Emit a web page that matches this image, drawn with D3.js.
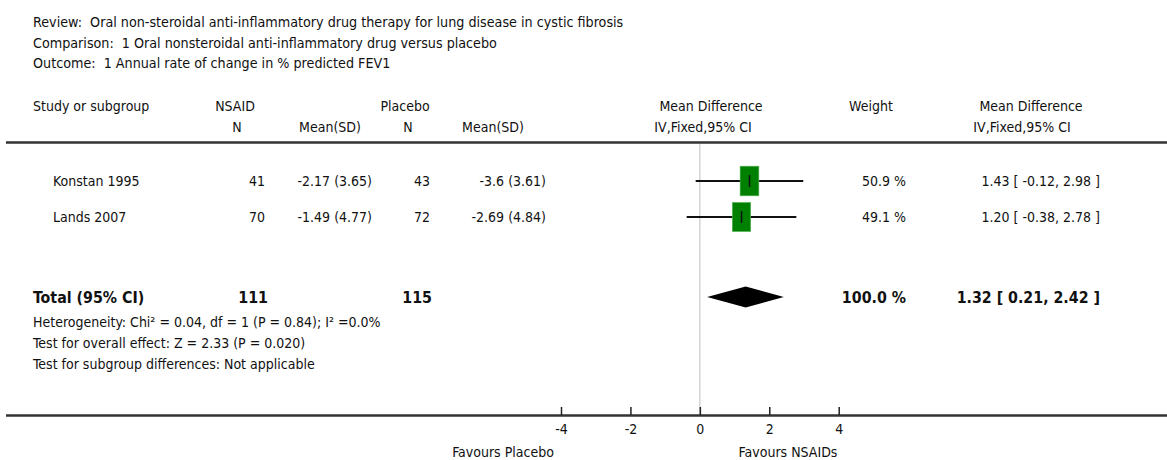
<!DOCTYPE html>
<head>
  <meta charset="utf-8">
  <script src="https://d3js.org/d3.v7.min.js"></script>
  <style>
    body { margin:0; padding:0; background:#fff; }
    text { font-family: "DejaVu Sans Condensed", sans-serif; fill:#111; white-space: pre; }
  </style>
</head>
<body>
  <svg id="chart" width="1167" height="460"></svg>
  <script>
    var width  = 1167;
    var height = 460;

    // data
    var titleLines = [
      "Review:  Oral non-steroidal anti-inflammatory drug therapy for lung disease in cystic fibrosis",
      "Comparison:  1 Oral nonsteroidal anti-inflammatory drug versus placebo",
      "Outcome:  1 Annual rate of change in % predicted FEV1"
    ];
    var studies      = ["Konstan 1995", "Lands 2007"];
    var nsaidN       = [41, 70];
    var nsaidMeanSD  = ["-2.17 (3.65)", "-1.49 (4.77)"];
    var placeboN     = [43, 72];
    var placeboMeanSD= ["-3.6 (3.61)", "-2.69 (4.84)"];
    var weights      = [50.9, 49.1];
    var md           = [1.43, 1.20];
    var ciLow        = [-0.12, -0.38];
    var ciHigh       = [2.98, 2.78];
    var total        = { nsaidN: 111, placeboN: 115, weight: 100.0, md: 1.32, lo: 0.21, hi: 2.42 };
    var footLines = [
      "Heterogeneity: Chi\u00b2 = 0.04, df = 1 (P = 0.84); I\u00b2 =0.0%",
      "Test for overall effect: Z = 2.33 (P = 0.020)",
      "Test for subgroup differences: Not applicable"
    ];
    var ticks = [-4, -2, 0, 2, 4];

    var svg = d3.select("#chart");
    var x = d3.scaleLinear().domain([-4, 4]).range([561, 838.7]);
    var rowY = d3.scaleLinear().domain([0, 1]).range([181, 217]);
    var boxW = d3.scaleSqrt().domain([0, 50]).range([0, 18.6]);
    var boxH = d3.scaleSqrt().domain([0, 50]).range([0, 29.4]);
    function f2(v) { return v.toFixed(2); }   // keep plain hyphen for negatives

    function txt(s, xx, yy, anchor, size, bold) {
      return svg.append("text").attr("x", xx).attr("y", yy)
        .attr("text-anchor", anchor || "start")
        .attr("font-size", size || 14)
        .attr("font-weight", bold ? "bold" : "normal")
        .text(s);
    }

    // header
    titleLines.forEach(function(s, i) { txt(s, 33, 27 + i * 20.5, "start", 14.2); });
    txt("Study or subgroup", 33, 111);
    txt("NSAID", 235, 111, "middle");
    txt("N", 237, 132, "middle");
    txt("Mean(SD)", 330, 132, "middle");
    txt("Placebo", 405, 111, "middle");
    txt("N", 408, 132, "middle");
    txt("Mean(SD)", 493, 132, "middle");
    txt("Mean Difference", 711, 111, "middle");
    txt("IV,Fixed,95% CI", 703, 132, "middle");
    txt("Weight", 871, 111, "middle");
    txt("Mean Difference", 1031, 111, "middle");
    txt("IV,Fixed,95% CI", 1022, 132, "middle");

    // rules
    svg.append("line").attr("x1", 6).attr("x2", width).attr("y1", 142.5).attr("y2", 142.5)
      .attr("stroke", "#333").attr("stroke-width", 2.5);
    svg.append("line").attr("x1", 6).attr("x2", width).attr("y1", 415.5).attr("y2", 415.5)
      .attr("stroke", "#333").attr("stroke-width", 2.5);
    svg.append("line").attr("x1", x(0)).attr("x2", x(0)).attr("y1", 144).attr("y2", 414)
      .attr("stroke", "#c8c8c8").attr("stroke-width", 1.2);

    // study rows
    studies.forEach(function(s, i) {
      var y = rowY(i);
      txt(s, 53, y + 5);
      txt(nsaidN[i], 265, y + 5, "end");
      txt(nsaidMeanSD[i], 372, y + 5, "end");
      txt(placeboN[i], 430, y + 5, "end");
      txt(placeboMeanSD[i], 546, y + 5, "end");
      txt(weights[i].toFixed(1) + " %", 906, y + 5, "end");
      txt(f2(md[i]) + " [ " + f2(ciLow[i]) + ", " + f2(ciHigh[i]) + " ]", 1100, y + 5, "end");

      svg.append("line").attr("x1", x(ciLow[i])).attr("x2", x(ciHigh[i]))
        .attr("y1", y).attr("y2", y).attr("stroke", "#111").attr("stroke-width", 2);
      var w = boxW(weights[i]), h = boxH(weights[i]);
      svg.append("rect").attr("x", x(md[i]) - w / 2).attr("y", y - h / 2)
        .attr("width", w).attr("height", h)
        .attr("fill", "#008000").attr("stroke", "#5cb85c").attr("stroke-width", 0.6);
      svg.append("line").attr("x1", x(md[i])).attr("x2", x(md[i]))
        .attr("y1", y - 6).attr("y2", y + 6).attr("stroke", "#111").attr("stroke-width", 1.5);
    });

    // total row
    var ty = 297;
    txt("Total (95% CI)", 33, ty + 6, "start", 15.8, true);
    txt(total.nsaidN, 268, ty + 6, "end", 15.8, true);
    txt(total.placeboN, 432, ty + 6, "end", 15.8, true);
    txt(total.weight.toFixed(1) + " %", 906, ty + 6, "end", 15.8, true);
    txt(f2(total.md) + " [ " + f2(total.lo) + ", " + f2(total.hi) + " ]", 1100, ty + 6, "end", 15.8, true);
    svg.append("path")
      .attr("d", "M" + x(total.lo) + "," + ty + "L" + x(total.md) + "," + (ty - 10.5) +
                 "L" + x(total.hi) + "," + ty + "L" + x(total.md) + "," + (ty + 10.5) + "Z")
      .attr("fill", "#000");
    footLines.forEach(function(s, i) { txt(s, 33, 327 + i * 21); });

    // axis
    var axis = d3.axisBottom(x).tickValues(ticks).tickSize(-8).tickPadding(9)
      .tickFormat(function(d) { return String(d); });
    var g = svg.append("g").attr("transform", "translate(0,415)").call(axis);
    g.select(".domain").remove();
    g.selectAll(".tick line").attr("stroke", "#222").attr("stroke-width", 1.5);
    g.selectAll(".tick text").attr("font-size", 14).attr("font-family", null).attr("fill", "#111");
    txt("Favours Placebo", 503, 457, "middle");
    txt("Favours NSAIDs", 788, 457, "middle");
  </script>
</body>
